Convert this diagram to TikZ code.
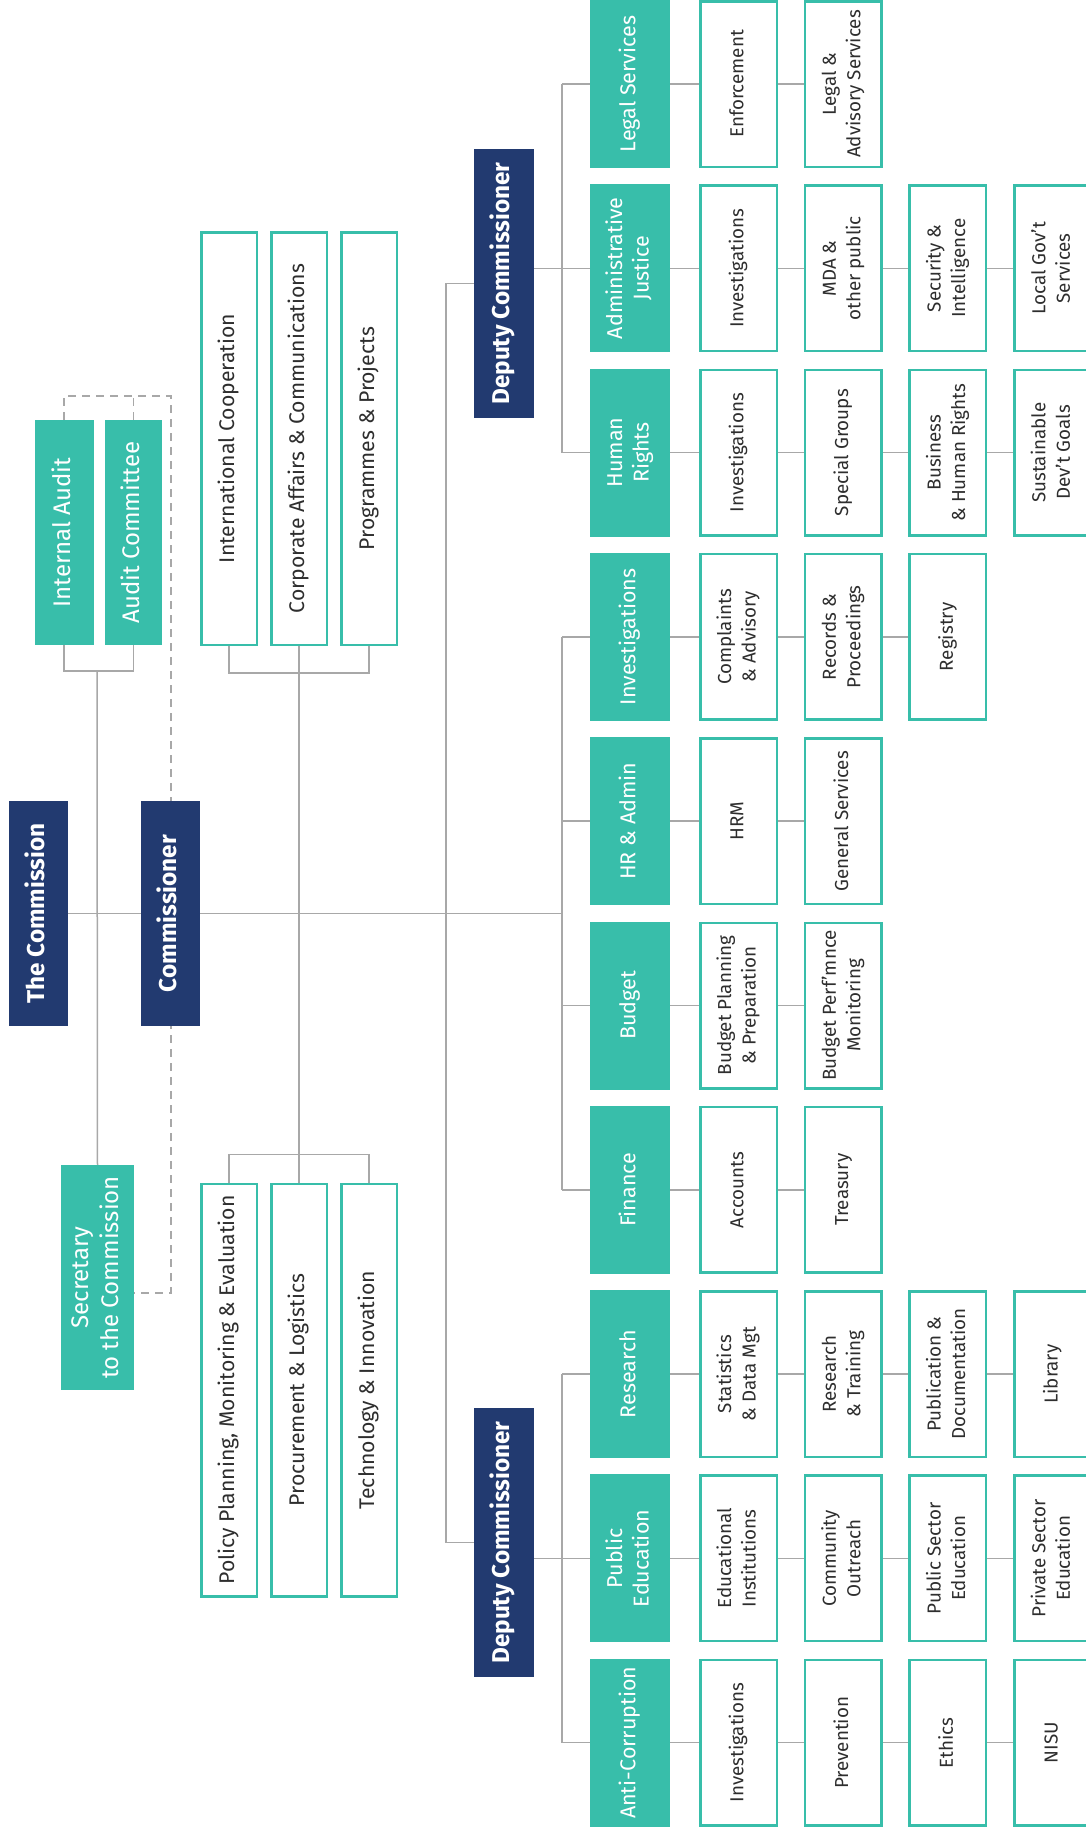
\documentclass[tikz,border=0pt]{standalone}
\usepackage{fontspec}
\setmainfont{Fira Sans}
\usetikzlibrary{backgrounds}
\definecolor{tealc}{HTML}{38BEAA}
\definecolor{navyc}{HTML}{223A70}
\definecolor{linec}{HTML}{A8A8A8}
\definecolor{txtc}{HTML}{2E2E2E}
\newcommand{\rt}[1]{\rotatebox{90}{\begin{tabular}{@{}c@{}}#1\end{tabular}}}
\begin{document}
\begin{tikzpicture}[x=1pt,y=-1pt,
  tealbox/.style={fill=tealc, draw=none, text=white, minimum width=80, minimum height=168, inner sep=0, font=\fontsize{21.5}{26.5}\selectfont},
  subbox/.style={draw=tealc, line width=2.5, fill=white, text=txtc, minimum width=76.5, minimum height=165.5, inner sep=0, font=\fontsize{18.8}{24.5}\selectfont},
  staffbox/.style={draw=tealc, line width=2.5, fill=white, text=txtc, minimum width=55.5, minimum height=412.5, inner sep=0, font=\fontsize{21.2}{25}\selectfont},
  navybox/.style={fill=navyc, draw=none, text=white, inner sep=0, font=\bfseries\fontsize{24.3}{28}\selectfont},
  sidebox/.style={fill=tealc, draw=none, text=white, inner sep=0, minimum height=225, font=\fontsize{24}{30}\selectfont},
  conn/.style={draw=linec, line width=1.5},
  dashconn/.style={conn, dash pattern=on 8 off 6}]
\useasboundingbox (0,0) rectangle (1085,1829);

% ---------- left part ----------
\node[navybox, minimum width=59, minimum height=225] (comm) at (38.5,913.5) {\rt{The Commission}};
\node[navybox, minimum width=59, minimum height=225] (cmr) at (170.5,913.5) {\rt{Commissioner}};
\node[sidebox, minimum width=59] (ia) at (64,532.5) {\rt{Internal Audit}};
\node[sidebox, minimum width=57] (ac) at (133.5,532.5) {\rt{Audit Committee}};
\node[sidebox, minimum width=73] (sec) at (97.5,1277.5) {\rt{Secretary\\to the Commission}};
\coordinate (iab) at (97,671);
\coordinate (dtop) at (171,396);
\coordinate (dbot) at (171,1293);

% staff boxes
\node[staffbox] (st1) at (229,438.5) {\rt{International Cooperation}};
\node[staffbox] (st2) at (299,438.5) {\rt{Corporate Affairs \& Communications}};
\node[staffbox] (st3) at (369,438.5) {\rt{Programmes \& Projects}};
\node[staffbox] (sb1) at (229,1390) {\rt{Policy Planning, Monitoring \& Evaluation}};
\node[staffbox] (sb2) at (299,1390) {\rt{Procurement \& Logistics}};
\node[staffbox] (sb3) at (369,1390) {\rt{Technology \& Innovation}};

% deputy commissioners
\node[navybox, minimum width=60, minimum height=269] (dc1) at (504,283.5) {\rt{Deputy Commissioner}};
\node[navybox, minimum width=60, minimum height=269] (dc2) at (504,1542.5) {\rt{Deputy Commissioner}};

% ---------- departments ----------
% row 0
\node[tealbox] (r0) at (630,84) {\rt{Legal Services}};
\node[subbox] (r0a) at (738.5,84) {\rt{Enforcement}};
\node[subbox] (r0b) at (843.2,84) {\rt{Legal \&\\Advisory Services}};
% row 1
\node[tealbox] (r1) at (630,268.3) {\rt{Administrative\\Justice}};
\node[subbox] (r1a) at (738.5,268.3) {\rt{Investigations}};
\node[subbox] (r1b) at (843.2,268.3) {\rt{MDA \&\\other public}};
\node[subbox] (r1c) at (947.9,268.3) {\rt{Security \&\\Intelligence}};
\node[subbox] (r1d) at (1052.6,268.3) {\rt{Local Gov’t\\Services}};
% row 2
\node[tealbox] (r2) at (630,452.6) {\rt{Human\\Rights}};
\node[subbox] (r2a) at (738.5,452.6) {\rt{Investigations}};
\node[subbox] (r2b) at (843.2,452.6) {\rt{Special Groups}};
\node[subbox] (r2c) at (947.9,452.6) {\rt{Business\\\& Human Rights}};
\node[subbox] (r2d) at (1052.6,452.6) {\rt{Sustainable\\Dev’t Goals}};
% row 3
\node[tealbox] (r3) at (630,636.9) {\rt{Investigations}};
\node[subbox] (r3a) at (738.5,636.9) {\rt{Complaints\\\& Advisory}};
\node[subbox] (r3b) at (843.2,636.9) {\rt{Records \&\\Proceedings}};
\node[subbox] (r3c) at (947.9,636.9) {\rt{Registry}};
% row 4
\node[tealbox] (r4) at (630,821.2) {\rt{HR \& Admin}};
\node[subbox] (r4a) at (738.5,821.2) {\rt{HRM}};
\node[subbox] (r4b) at (843.2,821.2) {\rt{General Services}};
% row 5
\node[tealbox] (r5) at (630,1005.5) {\rt{Budget}};
\node[subbox] (r5a) at (738.5,1005.5) {\rt{Budget Planning\\\& Preparation}};
\node[subbox] (r5b) at (843.2,1005.5) {\rt{Budget Perf’mnce\\Monitoring}};
% row 6
\node[tealbox] (r6) at (630,1189.8) {\rt{Finance}};
\node[subbox] (r6a) at (738.5,1189.8) {\rt{Accounts}};
\node[subbox] (r6b) at (843.2,1189.8) {\rt{Treasury}};
% row 7
\node[tealbox] (r7) at (630,1374.1) {\rt{Research}};
\node[subbox] (r7a) at (738.5,1374.1) {\rt{Statistics\\\& Data Mgt}};
\node[subbox] (r7b) at (843.2,1374.1) {\rt{Research\\\& Training}};
\node[subbox] (r7c) at (947.9,1374.1) {\rt{Publication \&\\Documentation}};
\node[subbox] (r7d) at (1052.6,1374.1) {\rt{Library}};
% row 8
\node[tealbox] (r8) at (630,1558.4) {\rt{Public\\Education}};
\node[subbox] (r8a) at (738.5,1558.4) {\rt{Educational\\Institutions}};
\node[subbox] (r8b) at (843.2,1558.4) {\rt{Community\\Outreach}};
\node[subbox] (r8c) at (947.9,1558.4) {\rt{Public Sector\\Education}};
\node[subbox] (r8d) at (1052.6,1558.4) {\rt{Private Sector\\Education}};
% row 9
\node[tealbox] (r9) at (630,1742.7) {\rt{Anti-Corruption}};
\node[subbox] (r9a) at (738.5,1742.7) {\rt{Investigations}};
\node[subbox] (r9b) at (843.2,1742.7) {\rt{Prevention}};
\node[subbox] (r9c) at (947.9,1742.7) {\rt{Ethics}};
\node[subbox] (r9d) at (1052.6,1742.7) {\rt{NISU}};

\foreach \i/\y in {0/84,1/268.3,2/452.6,3/636.9,4/821.2,5/1005.5,6/1189.8,7/1374.1,8/1558.4,9/1742.7}
  \coordinate (b\i) at (562,\y);
\coordinate (bm) at (562,913.5);

% ---------- connectors ----------
\begin{scope}[on background layer]
\fill[white] (0,0) rectangle (1085,1829);
% main line
\draw[conn] (comm.east) -- (cmr.west);
\draw[conn] (cmr.east) -- (bm);
% audit
\draw[conn] (ia.south) |- (iab) -| (ac.south);
\draw[conn] (iab) -- (sec.north);
\draw[dashconn] (ia.north) |- (dtop) -- (dbot) -- (sec.east |- dbot);
\draw[dashconn] (ac.north) -- (ac.north |- dtop);
% staff
\draw[conn] (st1.south) -- ++(0,27) -| (st3.south);
\draw[conn] (st2.south) -- (sb2.north);
\draw[conn] (sb1.north) -- ++(0,-28) -| (sb3.north);
% deputies
\draw[conn] (dc1.west) -- ++(-28,0) |- (dc2.west);
\draw[conn] (dc1.east |- b1) -- (b1);
\draw[conn] (dc2.east |- b8) -- (b8);
% buses
\draw[conn] (b0) -- (b2);
\draw[conn] (b3) -- (b6);
\draw[conn] (b7) -- (b9);
\foreach \i in {0,...,9} \draw[conn] (b\i) -- (r\i.west);
% row chains
\draw[conn] (r0.east) -- (r0a.west) (r0a.east) -- (r0b.west);
\draw[conn] (r1.east) -- (r1a.west) (r1a.east) -- (r1b.west) (r1b.east) -- (r1c.west) (r1c.east) -- (r1d.west);
\draw[conn] (r2.east) -- (r2a.west) (r2a.east) -- (r2b.west) (r2b.east) -- (r2c.west) (r2c.east) -- (r2d.west);
\draw[conn] (r3.east) -- (r3a.west) (r3a.east) -- (r3b.west) (r3b.east) -- (r3c.west);
\draw[conn] (r4.east) -- (r4a.west) (r4a.east) -- (r4b.west);
\draw[conn] (r5.east) -- (r5a.west) (r5a.east) -- (r5b.west);
\draw[conn] (r6.east) -- (r6a.west) (r6a.east) -- (r6b.west);
\draw[conn] (r7.east) -- (r7a.west) (r7a.east) -- (r7b.west) (r7b.east) -- (r7c.west) (r7c.east) -- (r7d.west);
\draw[conn] (r8.east) -- (r8a.west) (r8a.east) -- (r8b.west) (r8b.east) -- (r8c.west) (r8c.east) -- (r8d.west);
\draw[conn] (r9.east) -- (r9a.west) (r9a.east) -- (r9b.west) (r9b.east) -- (r9c.west) (r9c.east) -- (r9d.west);
\end{scope}
\end{tikzpicture}
\end{document}
